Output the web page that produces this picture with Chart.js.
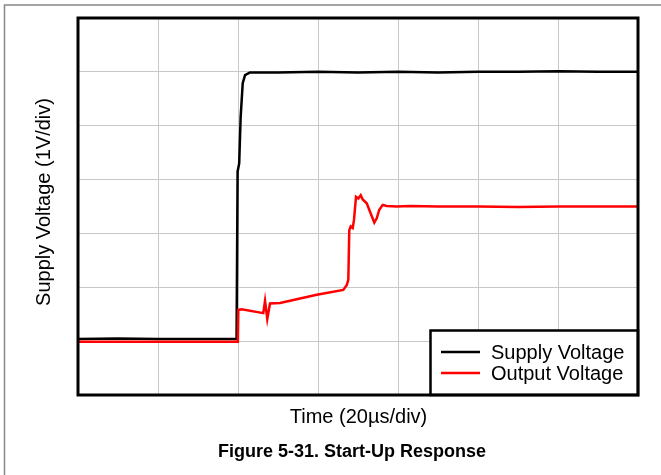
<!DOCTYPE html>
<html lang="en">

<head>
    <meta charset="UTF-8">
    <title>Start-Up Response</title>
    <script src="https://cdn.jsdelivr.net/npm/chart.js"></script>
    <style>
        body { margin: 0; background: #fff; }
    </style>
</head>

<body>
    <canvas id="myChart" width="661" height="475"></canvas>

    <script>
        // time in divisions (20us/div), voltage in divisions (1V/div)
        var supplyTime  = [0, 0.5, 1.0, 1.5, 1.982, 1.995, 2.015, 2.033, 2.059, 2.088, 2.15, 2.5, 3.0, 3.5, 4.0, 4.5, 5.0, 5.5, 6.0, 6.5, 7.0];
        var supplyVolts = [1.04, 1.05, 1.04, 1.04, 1.04, 4.15, 4.3, 5.16, 5.79, 5.94, 5.99, 5.99, 6.0, 5.99, 6.0, 5.99, 6.0, 6.0, 6.01, 6.0, 6.0];

        var outputTime  = [0, 0.5, 1.0, 1.5, 1.975, 1.998, 2.004, 2.046, 2.316, 2.338, 2.366, 2.4, 2.525, 2.65, 2.984, 3.316, 3.359, 3.379,
                           3.391, 3.409, 3.434, 3.45, 3.475, 3.504, 3.534, 3.559, 3.609, 3.659, 3.704, 3.734, 3.766, 3.809, 3.859, 3.984,
                           4.15, 4.5, 5.0, 5.5, 6.0, 6.5, 7.0];
        var outputVolts = [0.99, 0.99, 0.99, 0.99, 0.99, 0.99, 1.58, 1.59, 1.52, 1.75, 1.41, 1.70, 1.71, 1.75, 1.86, 1.95, 2.04, 2.14,
                           3.06, 3.13, 3.10, 3.25, 3.68, 3.65, 3.71, 3.63, 3.56, 3.37, 3.20, 3.28, 3.44, 3.53, 3.51, 3.50,
                           3.51, 3.50, 3.50, 3.49, 3.50, 3.50, 3.50];

        var seriesNames = ['Supply Voltage', 'Output Voltage'];
        var seriesColors = ['#000000', '#ff0000'];

        function toPoints(xs, ys) {
            return xs.map(function (x, i) { return { x: x, y: ys[i] }; });
        }

        var font = '"Liberation Sans", Arial, sans-serif';

        // page frame, plot box, legend and labels
        var decorations = {
            id: 'decorations',
            beforeDraw: function (chart) {
                var ctx = chart.ctx;
                ctx.save();
                ctx.fillStyle = '#fff';
                ctx.fillRect(0, 0, chart.width, chart.height);
                ctx.strokeStyle = '#888';
                ctx.lineWidth = 1.5;
                ctx.beginPath();
                ctx.moveTo(4.5, chart.height);
                ctx.lineTo(4.5, 5);
                ctx.lineTo(chart.width, 5);
                ctx.stroke();
                ctx.restore();
            },
            afterDraw: function (chart) {
                var ctx = chart.ctx;
                var a = chart.chartArea;
                ctx.save();

                // legend box
                var lx = 430.5, ly = 330.5;
                ctx.fillStyle = '#fff';
                ctx.fillRect(lx, ly, a.right - lx, a.bottom - ly);
                ctx.strokeStyle = '#000';
                ctx.lineWidth = 2.5;
                ctx.strokeRect(lx, ly, a.right - lx, a.bottom - ly);

                ctx.font = '20px ' + font;
                ctx.textBaseline = 'alphabetic';
                ctx.textAlign = 'left';
                for (var i = 0; i < seriesNames.length; i++) {
                    var yy = 352 + i * 21;
                    ctx.strokeStyle = seriesColors[i];
                    ctx.lineWidth = 2.5;
                    ctx.beginPath();
                    ctx.moveTo(441, yy);
                    ctx.lineTo(480, yy);
                    ctx.stroke();
                    ctx.fillStyle = '#000';
                    ctx.fillText(seriesNames[i], 491, yy + 6.5);
                }

                // plot border
                ctx.strokeStyle = '#000';
                ctx.lineWidth = 3;
                ctx.strokeRect(a.left, a.top, a.right - a.left, a.bottom - a.top);

                // axis titles and caption
                ctx.fillStyle = '#000';
                ctx.textAlign = 'center';
                ctx.font = '20px ' + font;
                ctx.fillText('Time (20\u00b5s/div)', 358.5, 423);

                ctx.font = 'bold 18px ' + font;
                ctx.fillText('Figure 5-31. Start-Up Response', 352, 457);

                ctx.translate(50, 202);
                ctx.rotate(-Math.PI / 2);
                ctx.font = '20px ' + font;
                ctx.fillText('Supply Voltage (1V/div)', 0, 0);
                ctx.restore();
            }
        };

        var ctx = document.getElementById('myChart').getContext('2d');
        var myChart = new Chart(ctx, {
            type: 'line',
            data: {
                datasets: [{
                    label: seriesNames[0],
                    data: toPoints(supplyTime, supplyVolts),
                    borderColor: seriesColors[0],
                    borderWidth: 2.5,
                    pointRadius: 0,
                    tension: 0,
                    order: 2
                }, {
                    label: seriesNames[1],
                    data: toPoints(outputTime, outputVolts),
                    borderColor: seriesColors[1],
                    borderWidth: 2.5,
                    pointRadius: 0,
                    tension: 0,
                    order: 1
                }]
            },
            options: {
                responsive: false,
                animation: false,
                layout: {
                    padding: { left: 78, right: 23, top: 18, bottom: 80 }
                },
                plugins: {
                    legend: { display: false },
                    tooltip: { enabled: false }
                },
                scales: {
                    x: {
                        type: 'linear',
                        min: 0,
                        max: 7,
                        ticks: { display: false, stepSize: 1 },
                        grid: { color: '#c8c8c8', lineWidth: 1, drawTicks: false },
                        border: { display: false }
                    },
                    y: {
                        min: 0,
                        max: 7,
                        ticks: { display: false, stepSize: 1 },
                        grid: { color: '#c8c8c8', lineWidth: 1, drawTicks: false },
                        border: { display: false }
                    }
                }
            },
            plugins: [decorations]
        });
    </script>
</body>

</html>
